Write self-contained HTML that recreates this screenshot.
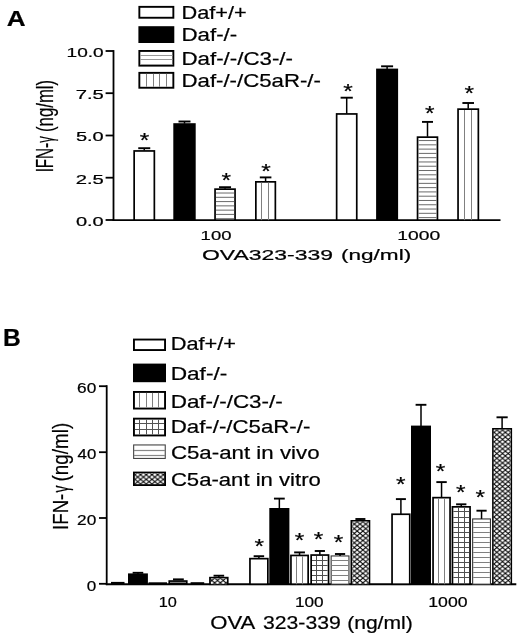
<!DOCTYPE html>
<html><head><meta charset="utf-8"><title>Figure</title>
<style>
html,body{margin:0;padding:0;background:#fff;}
svg{display:block;}
text{font-family:"Liberation Sans",sans-serif;fill:#000;stroke:#000;stroke-width:0.22px;}
</style></head>
<body>
<svg width="520" height="637" viewBox="0 0 520 637">
<defs>
<pattern id="xh" patternUnits="userSpaceOnUse" x="493.95" y="427.7" width="5.7" height="4.7">
<rect width="5.7" height="4.7" fill="#fff"/>
<path d="M-1 -0.825 L6.7 5.525 M6.7 -0.825 L-1 5.525" stroke="#000" stroke-width="1" fill="none"/>
</pattern>
</defs>
<rect width="520" height="637" fill="#fff"/>
<text transform="translate(6.85,25.75) scale(1.1818,1)" font-size="22.10" font-weight="bold">A</text>
<text transform="translate(2.90,345.50) scale(1.0605,1)" font-size="23.19" font-weight="bold">B</text>
<rect x="139.35" y="6.85" width="34.00" height="10.90" fill="#fff" stroke="#000" stroke-width="1.9"/>
<rect x="139.35" y="27.15" width="34.00" height="14.90" fill="#000" stroke="#000" stroke-width="1.9"/>
<rect x="139.35" y="50.95" width="34.00" height="14.70" fill="#fff" stroke="#000" stroke-width="1.9"/>
<line x1="140.30" y1="55.50" x2="172.40" y2="55.50" stroke="#999" stroke-width="1.2"/>
<line x1="140.30" y1="59.50" x2="172.40" y2="59.50" stroke="#999" stroke-width="1.2"/>
<line x1="140.30" y1="64.50" x2="172.40" y2="64.50" stroke="#999" stroke-width="1.2"/>
<rect x="139.35" y="72.85" width="34.00" height="14.90" fill="#fff" stroke="#000" stroke-width="1.9"/>
<line x1="146.50" y1="73.80" x2="146.50" y2="86.80" stroke="#808080" stroke-width="1"/>
<line x1="153.50" y1="73.80" x2="153.50" y2="86.80" stroke="#808080" stroke-width="1"/>
<line x1="159.50" y1="73.80" x2="159.50" y2="86.80" stroke="#808080" stroke-width="1"/>
<line x1="166.50" y1="73.80" x2="166.50" y2="86.80" stroke="#808080" stroke-width="1"/>
<text transform="translate(181.56,19.00) scale(1.1990,1)" font-size="18.12">Daf+/+</text>
<text transform="translate(181.52,40.80) scale(1.1925,1)" font-size="18.70">Daf-/-</text>
<text transform="translate(181.52,65.20) scale(1.1835,1)" font-size="18.84">Daf-/-/C3-/-</text>
<text transform="translate(181.52,86.60) scale(1.1880,1)" font-size="18.70">Daf-/-/C5aR-/-</text>
<line x1="113.50" y1="50.10" x2="113.50" y2="221.00" stroke="#000" stroke-width="1.8"/>
<line x1="112.60" y1="220.10" x2="500.50" y2="220.10" stroke="#000" stroke-width="1.8"/>
<line x1="105.60" y1="51.00" x2="113.50" y2="51.00" stroke="#000" stroke-width="1.8"/>
<text transform="translate(66.57,56.90) scale(1.4204,1)" font-size="13.43" stroke-width="0.1">10.0</text>
<line x1="105.60" y1="93.20" x2="113.50" y2="93.20" stroke="#000" stroke-width="1.8"/>
<text transform="translate(75.69,99.10) scale(1.5065,1)" font-size="13.43" stroke-width="0.1">7.5</text>
<line x1="105.60" y1="135.50" x2="113.50" y2="135.50" stroke="#000" stroke-width="1.8"/>
<text transform="translate(75.90,141.40) scale(1.4894,1)" font-size="13.43" stroke-width="0.1">5.0</text>
<line x1="105.60" y1="177.70" x2="113.50" y2="177.70" stroke="#000" stroke-width="1.8"/>
<text transform="translate(75.69,183.60) scale(1.5065,1)" font-size="13.43" stroke-width="0.1">2.5</text>
<line x1="105.60" y1="220.00" x2="113.50" y2="220.00" stroke="#000" stroke-width="1.8"/>
<text transform="translate(75.90,225.90) scale(1.4894,1)" font-size="13.43" stroke-width="0.1">0.0</text>
<text transform="translate(52.50,172.37) rotate(-90) scale(0.6354,1)" font-size="23.91">IFN-</text>
<text transform="translate(52.50,142.76) rotate(-90) scale(0.5377,1)" font-size="23.91">γ</text>
<text transform="translate(52.50,132.01) rotate(-90) scale(0.7021,1)" font-size="23.91">(ng/ml)</text>
<rect x="134.15" y="150.95" width="20.20" height="69.15" fill="#fff" stroke="#000" stroke-width="1.7"/>
<line x1="144.25" y1="148.20" x2="144.25" y2="150.60" stroke="#000" stroke-width="1.5"/>
<line x1="138.25" y1="148.20" x2="150.25" y2="148.20" stroke="#000" stroke-width="1.9"/>
<text transform="translate(139.68,147.11) scale(1.2582,1)" font-size="19.43" stroke-width="0.5">*</text>
<rect x="173.30" y="123.20" width="22.40" height="96.90" fill="#000"/>
<line x1="184.50" y1="121.50" x2="184.50" y2="123.70" stroke="#000" stroke-width="1.5"/>
<line x1="178.50" y1="121.50" x2="190.50" y2="121.50" stroke="#000" stroke-width="1.9"/>
<rect x="215.05" y="189.15" width="20.00" height="30.95" fill="#fff" stroke="#000" stroke-width="1.7"/>
<line x1="215.90" y1="218.70" x2="234.20" y2="218.70" stroke="#6a6a6a" stroke-width="1"/>
<line x1="215.90" y1="214.42" x2="234.20" y2="214.42" stroke="#6a6a6a" stroke-width="1"/>
<line x1="215.90" y1="210.14" x2="234.20" y2="210.14" stroke="#6a6a6a" stroke-width="1"/>
<line x1="215.90" y1="205.86" x2="234.20" y2="205.86" stroke="#6a6a6a" stroke-width="1"/>
<line x1="215.90" y1="201.58" x2="234.20" y2="201.58" stroke="#6a6a6a" stroke-width="1"/>
<line x1="215.90" y1="197.30" x2="234.20" y2="197.30" stroke="#6a6a6a" stroke-width="1"/>
<line x1="215.90" y1="193.02" x2="234.20" y2="193.02" stroke="#6a6a6a" stroke-width="1"/>
<line x1="225.05" y1="187.20" x2="225.05" y2="188.80" stroke="#000" stroke-width="1.5"/>
<line x1="219.05" y1="187.20" x2="231.05" y2="187.20" stroke="#000" stroke-width="1.9"/>
<text transform="translate(221.53,187.11) scale(1.2582,1)" font-size="19.43" stroke-width="0.5">*</text>
<rect x="255.85" y="181.85" width="19.50" height="38.25" fill="#fff" stroke="#000" stroke-width="1.7"/>
<line x1="261.50" y1="182.70" x2="261.50" y2="220.10" stroke="#808080" stroke-width="1"/>
<line x1="268.50" y1="182.70" x2="268.50" y2="220.10" stroke="#808080" stroke-width="1"/>
<line x1="265.60" y1="177.40" x2="265.60" y2="181.50" stroke="#000" stroke-width="1.5"/>
<line x1="259.80" y1="177.40" x2="271.40" y2="177.40" stroke="#000" stroke-width="1.9"/>
<text transform="translate(261.23,177.61) scale(1.2582,1)" font-size="19.43" stroke-width="0.5">*</text>
<rect x="336.65" y="113.95" width="20.10" height="106.15" fill="#fff" stroke="#000" stroke-width="1.7"/>
<line x1="346.70" y1="97.70" x2="346.70" y2="113.60" stroke="#000" stroke-width="1.5"/>
<line x1="340.60" y1="97.70" x2="352.80" y2="97.70" stroke="#000" stroke-width="1.9"/>
<text transform="translate(343.33,98.41) scale(1.2582,1)" font-size="19.43" stroke-width="0.5">*</text>
<rect x="376.10" y="68.60" width="22.00" height="151.50" fill="#000"/>
<line x1="387.10" y1="66.30" x2="387.10" y2="69.10" stroke="#000" stroke-width="1.5"/>
<line x1="381.10" y1="66.30" x2="393.10" y2="66.30" stroke="#000" stroke-width="1.9"/>
<rect x="417.55" y="137.15" width="19.90" height="82.95" fill="#fff" stroke="#000" stroke-width="1.7"/>
<line x1="418.40" y1="217.60" x2="436.60" y2="217.60" stroke="#6a6a6a" stroke-width="1"/>
<line x1="418.40" y1="213.32" x2="436.60" y2="213.32" stroke="#6a6a6a" stroke-width="1"/>
<line x1="418.40" y1="209.04" x2="436.60" y2="209.04" stroke="#6a6a6a" stroke-width="1"/>
<line x1="418.40" y1="204.76" x2="436.60" y2="204.76" stroke="#6a6a6a" stroke-width="1"/>
<line x1="418.40" y1="200.48" x2="436.60" y2="200.48" stroke="#6a6a6a" stroke-width="1"/>
<line x1="418.40" y1="196.20" x2="436.60" y2="196.20" stroke="#6a6a6a" stroke-width="1"/>
<line x1="418.40" y1="191.92" x2="436.60" y2="191.92" stroke="#6a6a6a" stroke-width="1"/>
<line x1="418.40" y1="187.64" x2="436.60" y2="187.64" stroke="#6a6a6a" stroke-width="1"/>
<line x1="418.40" y1="183.36" x2="436.60" y2="183.36" stroke="#6a6a6a" stroke-width="1"/>
<line x1="418.40" y1="179.08" x2="436.60" y2="179.08" stroke="#6a6a6a" stroke-width="1"/>
<line x1="418.40" y1="174.80" x2="436.60" y2="174.80" stroke="#6a6a6a" stroke-width="1"/>
<line x1="418.40" y1="170.52" x2="436.60" y2="170.52" stroke="#6a6a6a" stroke-width="1"/>
<line x1="418.40" y1="166.24" x2="436.60" y2="166.24" stroke="#6a6a6a" stroke-width="1"/>
<line x1="418.40" y1="161.96" x2="436.60" y2="161.96" stroke="#6a6a6a" stroke-width="1"/>
<line x1="418.40" y1="157.68" x2="436.60" y2="157.68" stroke="#6a6a6a" stroke-width="1"/>
<line x1="418.40" y1="153.40" x2="436.60" y2="153.40" stroke="#6a6a6a" stroke-width="1"/>
<line x1="418.40" y1="149.12" x2="436.60" y2="149.12" stroke="#6a6a6a" stroke-width="1"/>
<line x1="418.40" y1="144.84" x2="436.60" y2="144.84" stroke="#6a6a6a" stroke-width="1"/>
<line x1="418.40" y1="140.56" x2="436.60" y2="140.56" stroke="#6a6a6a" stroke-width="1"/>
<line x1="427.50" y1="121.90" x2="427.50" y2="136.80" stroke="#000" stroke-width="1.5"/>
<line x1="422.00" y1="121.90" x2="433.00" y2="121.90" stroke="#000" stroke-width="1.9"/>
<text transform="translate(425.03,119.71) scale(1.2582,1)" font-size="19.43" stroke-width="0.5">*</text>
<rect x="458.05" y="109.15" width="20.30" height="110.95" fill="#fff" stroke="#000" stroke-width="1.7"/>
<line x1="464.50" y1="110.00" x2="464.50" y2="220.10" stroke="#808080" stroke-width="1"/>
<line x1="471.50" y1="110.00" x2="471.50" y2="220.10" stroke="#808080" stroke-width="1"/>
<line x1="468.20" y1="103.00" x2="468.20" y2="108.80" stroke="#000" stroke-width="1.5"/>
<line x1="462.40" y1="103.00" x2="474.00" y2="103.00" stroke="#000" stroke-width="1.9"/>
<text transform="translate(464.43,99.81) scale(1.2582,1)" font-size="19.43" stroke-width="0.5">*</text>
<text transform="translate(200.61,239.50) scale(1.3623,1)" font-size="13.57" stroke-width="0.1">100</text>
<text transform="translate(397.30,239.50) scale(1.4197,1)" font-size="13.57" stroke-width="0.1">1000</text>
<text transform="translate(201.97,260.10) scale(1.5160,1)" font-size="15.14" stroke-width="0.1">OVA323-339</text>
<text transform="translate(340.94,260.10) scale(1.4930,1)" font-size="15.14" stroke-width="0.1">(ng/ml)</text>
<rect x="133.95" y="339.55" width="31.10" height="10.50" fill="#fff" stroke="#000" stroke-width="1.9"/>
<rect x="133.95" y="364.55" width="31.10" height="16.70" fill="#000" stroke="#000" stroke-width="1.9"/>
<rect x="133.95" y="391.95" width="31.10" height="16.60" fill="#fff" stroke="#000" stroke-width="1.9"/>
<line x1="139.50" y1="392.90" x2="139.50" y2="407.60" stroke="#808080" stroke-width="1"/>
<line x1="146.50" y1="392.90" x2="146.50" y2="407.60" stroke="#808080" stroke-width="1"/>
<line x1="152.50" y1="392.90" x2="152.50" y2="407.60" stroke="#808080" stroke-width="1"/>
<line x1="158.50" y1="392.90" x2="158.50" y2="407.60" stroke="#808080" stroke-width="1"/>
<rect x="133.95" y="418.65" width="31.10" height="16.80" fill="#fff" stroke="#000" stroke-width="1.9"/>
<line x1="139.50" y1="419.60" x2="139.50" y2="434.50" stroke="#555" stroke-width="1"/>
<line x1="146.50" y1="419.60" x2="146.50" y2="434.50" stroke="#555" stroke-width="1"/>
<line x1="152.50" y1="419.60" x2="152.50" y2="434.50" stroke="#555" stroke-width="1"/>
<line x1="158.50" y1="419.60" x2="158.50" y2="434.50" stroke="#555" stroke-width="1"/>
<line x1="134.90" y1="423.50" x2="164.10" y2="423.50" stroke="#555" stroke-width="1"/>
<line x1="134.90" y1="429.50" x2="164.10" y2="429.50" stroke="#555" stroke-width="1"/>
<rect x="133.65" y="444.95" width="31.60" height="13.50" fill="#fff" stroke="#444" stroke-width="1.1"/>
<line x1="134.00" y1="450.50" x2="165.00" y2="450.50" stroke="#888" stroke-width="1.2"/>
<line x1="134.00" y1="455.50" x2="165.00" y2="455.50" stroke="#888" stroke-width="1.2"/>
<rect x="133.95" y="472.55" width="31.10" height="12.50" fill="#fff" stroke="#000" stroke-width="1.9"/>
<rect x="134.9" y="473.5" width="29.2" height="10.6" fill="url(#xh)"/>
<text transform="translate(170.76,350.00) scale(1.2000,1)" font-size="18.12">Daf+/+</text>
<text transform="translate(170.69,379.50) scale(1.2493,1)" font-size="18.12">Daf-/-</text>
<text transform="translate(170.71,407.50) scale(1.2081,1)" font-size="18.55">Daf-/-/C3-/-</text>
<text transform="translate(170.72,433.00) scale(1.2093,1)" font-size="18.41">Daf-/-/C5aR-/-</text>
<text transform="translate(170.88,458.60) scale(1.2022,1)" font-size="18.55">C5a-ant in vivo</text>
<text transform="translate(170.89,486.00) scale(1.1925,1)" font-size="18.55">C5a-ant in vitro</text>
<line x1="106.70" y1="385.20" x2="106.70" y2="585.10" stroke="#000" stroke-width="1.8"/>
<line x1="105.80" y1="584.20" x2="516.30" y2="584.20" stroke="#000" stroke-width="1.9"/>
<line x1="99.00" y1="386.20" x2="106.70" y2="386.20" stroke="#000" stroke-width="1.8"/>
<text transform="translate(77.04,393.00) scale(1.1404,1)" font-size="15.14">60</text>
<line x1="99.00" y1="452.20" x2="106.70" y2="452.20" stroke="#000" stroke-width="1.8"/>
<text transform="translate(77.56,459.00) scale(1.1079,1)" font-size="15.14">40</text>
<line x1="99.00" y1="518.00" x2="106.70" y2="518.00" stroke="#000" stroke-width="1.8"/>
<text transform="translate(77.04,524.80) scale(1.1404,1)" font-size="15.14">20</text>
<line x1="99.00" y1="583.80" x2="106.70" y2="583.80" stroke="#000" stroke-width="1.8"/>
<text transform="translate(86.72,590.60) scale(1.1281,1)" font-size="15.14">0</text>
<text transform="translate(68.00,529.88) rotate(-90) scale(0.8508,1)" font-size="21.88">IFN-</text>
<text transform="translate(68.00,492.57) rotate(-90) scale(0.6341,1)" font-size="21.88">γ</text>
<text transform="translate(68.00,481.53) rotate(-90) scale(0.8635,1)" font-size="21.88">(ng/ml)</text>
<rect x="111.00" y="581.90" width="13.50" height="2.30" fill="#000"/>
<rect x="128.00" y="573.40" width="19.90" height="10.80" fill="#000"/>
<line x1="137.95" y1="572.80" x2="137.95" y2="573.90" stroke="#000" stroke-width="1.5"/>
<line x1="132.65" y1="572.80" x2="143.25" y2="572.80" stroke="#000" stroke-width="1.9"/>
<rect x="148.50" y="582.30" width="18.50" height="1.90" fill="#000"/>
<rect x="168.40" y="580.20" width="19.20" height="4.00" fill="#000"/>
<rect x="170.00" y="581.90" width="16.00" height="0.90" fill="#999"/>
<rect x="173.00" y="578.40" width="10.80" height="2.00" fill="#000"/>
<rect x="190.60" y="582.20" width="13.60" height="2.00" fill="#000"/>
<rect x="210.00" y="577.70" width="17.70" height="6.50" fill="#fff" stroke="#000" stroke-width="1.8"/>
<rect x="210.90" y="578.60" width="15.90" height="5.60" fill="url(#xh)"/>
<line x1="218.85" y1="575.70" x2="218.85" y2="577.30" stroke="#000" stroke-width="1.5"/>
<line x1="213.55" y1="575.70" x2="224.15" y2="575.70" stroke="#000" stroke-width="1.9"/>
<rect x="249.95" y="558.65" width="17.90" height="25.55" fill="#fff" stroke="#000" stroke-width="1.7"/>
<line x1="258.90" y1="556.20" x2="258.90" y2="558.30" stroke="#000" stroke-width="1.5"/>
<line x1="253.65" y1="556.20" x2="264.15" y2="556.20" stroke="#000" stroke-width="1.9"/>
<text transform="translate(254.53,552.80) scale(1.2222,1)" font-size="20.00" stroke-width="0.5">*</text>
<rect x="269.30" y="508.00" width="20.10" height="76.20" fill="#000"/>
<line x1="279.35" y1="498.60" x2="279.35" y2="508.50" stroke="#000" stroke-width="1.5"/>
<line x1="273.95" y1="498.60" x2="284.75" y2="498.60" stroke="#000" stroke-width="1.9"/>
<rect x="290.95" y="555.45" width="17.20" height="28.75" fill="#fff" stroke="#000" stroke-width="1.7"/>
<line x1="296.50" y1="556.30" x2="296.50" y2="584.20" stroke="#808080" stroke-width="1"/>
<line x1="302.50" y1="556.30" x2="302.50" y2="584.20" stroke="#808080" stroke-width="1"/>
<line x1="299.55" y1="552.40" x2="299.55" y2="555.10" stroke="#000" stroke-width="1.5"/>
<line x1="294.15" y1="552.40" x2="304.95" y2="552.40" stroke="#000" stroke-width="1.9"/>
<text transform="translate(294.83,546.80) scale(1.2222,1)" font-size="20.00" stroke-width="0.5">*</text>
<rect x="311.15" y="555.05" width="17.40" height="29.15" fill="#fff" stroke="#000" stroke-width="1.7"/>
<line x1="312.00" y1="580.50" x2="327.70" y2="580.50" stroke="#505050" stroke-width="1"/>
<line x1="312.00" y1="575.50" x2="327.70" y2="575.50" stroke="#505050" stroke-width="1"/>
<line x1="312.00" y1="570.50" x2="327.70" y2="570.50" stroke="#505050" stroke-width="1"/>
<line x1="312.00" y1="565.50" x2="327.70" y2="565.50" stroke="#505050" stroke-width="1"/>
<line x1="312.00" y1="560.50" x2="327.70" y2="560.50" stroke="#505050" stroke-width="1"/>
<line x1="316.50" y1="555.90" x2="316.50" y2="584.20" stroke="#505050" stroke-width="1"/>
<line x1="322.50" y1="555.90" x2="322.50" y2="584.20" stroke="#505050" stroke-width="1"/>
<line x1="319.85" y1="551.00" x2="319.85" y2="554.70" stroke="#000" stroke-width="1.5"/>
<line x1="314.75" y1="551.00" x2="324.95" y2="551.00" stroke="#000" stroke-width="1.9"/>
<text transform="translate(313.73,546.00) scale(1.2222,1)" font-size="20.00" stroke-width="0.5">*</text>
<rect x="331.15" y="555.95" width="17.80" height="28.25" fill="#fff" stroke="#333" stroke-width="1.1"/>
<line x1="331.70" y1="580.50" x2="348.40" y2="580.50" stroke="#808080" stroke-width="1"/>
<line x1="331.70" y1="575.50" x2="348.40" y2="575.50" stroke="#808080" stroke-width="1"/>
<line x1="331.70" y1="570.50" x2="348.40" y2="570.50" stroke="#808080" stroke-width="1"/>
<line x1="331.70" y1="565.50" x2="348.40" y2="565.50" stroke="#808080" stroke-width="1"/>
<line x1="331.70" y1="560.50" x2="348.40" y2="560.50" stroke="#808080" stroke-width="1"/>
<line x1="340.05" y1="554.00" x2="340.05" y2="555.90" stroke="#000" stroke-width="1.5"/>
<line x1="334.95" y1="554.00" x2="345.15" y2="554.00" stroke="#000" stroke-width="1.9"/>
<text transform="translate(333.73,548.60) scale(1.2222,1)" font-size="20.00" stroke-width="0.5">*</text>
<rect x="351.35" y="520.85" width="18.10" height="63.35" fill="#fff" stroke="#000" stroke-width="1.7"/>
<rect x="352.20" y="521.70" width="16.40" height="62.50" fill="url(#xh)"/>
<line x1="360.40" y1="519.00" x2="360.40" y2="520.50" stroke="#000" stroke-width="1.5"/>
<line x1="355.40" y1="519.00" x2="365.40" y2="519.00" stroke="#000" stroke-width="1.9"/>
<rect x="392.05" y="514.25" width="17.70" height="69.95" fill="#fff" stroke="#000" stroke-width="1.7"/>
<line x1="400.90" y1="499.10" x2="400.90" y2="513.90" stroke="#000" stroke-width="1.5"/>
<line x1="395.90" y1="499.10" x2="405.90" y2="499.10" stroke="#000" stroke-width="1.9"/>
<text transform="translate(396.03,491.40) scale(1.2222,1)" font-size="20.00" stroke-width="0.5">*</text>
<rect x="411.00" y="425.60" width="20.00" height="158.60" fill="#000"/>
<line x1="421.00" y1="404.80" x2="421.00" y2="426.10" stroke="#000" stroke-width="1.5"/>
<line x1="415.60" y1="404.80" x2="426.40" y2="404.80" stroke="#000" stroke-width="1.9"/>
<rect x="433.05" y="497.65" width="17.00" height="86.55" fill="#fff" stroke="#000" stroke-width="1.7"/>
<line x1="438.50" y1="498.50" x2="438.50" y2="584.20" stroke="#808080" stroke-width="1"/>
<line x1="444.50" y1="498.50" x2="444.50" y2="584.20" stroke="#808080" stroke-width="1"/>
<line x1="441.55" y1="482.10" x2="441.55" y2="497.30" stroke="#000" stroke-width="1.5"/>
<line x1="436.35" y1="482.10" x2="446.75" y2="482.10" stroke="#000" stroke-width="1.9"/>
<text transform="translate(435.83,478.20) scale(1.2222,1)" font-size="20.00" stroke-width="0.5">*</text>
<rect x="452.45" y="506.85" width="17.60" height="77.35" fill="#fff" stroke="#000" stroke-width="1.7"/>
<line x1="453.30" y1="577.50" x2="469.20" y2="577.50" stroke="#505050" stroke-width="1"/>
<line x1="453.30" y1="572.50" x2="469.20" y2="572.50" stroke="#505050" stroke-width="1"/>
<line x1="453.30" y1="567.50" x2="469.20" y2="567.50" stroke="#505050" stroke-width="1"/>
<line x1="453.30" y1="562.50" x2="469.20" y2="562.50" stroke="#505050" stroke-width="1"/>
<line x1="453.30" y1="557.50" x2="469.20" y2="557.50" stroke="#505050" stroke-width="1"/>
<line x1="453.30" y1="552.50" x2="469.20" y2="552.50" stroke="#505050" stroke-width="1"/>
<line x1="453.30" y1="547.50" x2="469.20" y2="547.50" stroke="#505050" stroke-width="1"/>
<line x1="453.30" y1="542.50" x2="469.20" y2="542.50" stroke="#505050" stroke-width="1"/>
<line x1="453.30" y1="537.50" x2="469.20" y2="537.50" stroke="#505050" stroke-width="1"/>
<line x1="453.30" y1="532.50" x2="469.20" y2="532.50" stroke="#505050" stroke-width="1"/>
<line x1="453.30" y1="527.50" x2="469.20" y2="527.50" stroke="#505050" stroke-width="1"/>
<line x1="453.30" y1="522.50" x2="469.20" y2="522.50" stroke="#505050" stroke-width="1"/>
<line x1="453.30" y1="517.50" x2="469.20" y2="517.50" stroke="#505050" stroke-width="1"/>
<line x1="453.30" y1="511.50" x2="469.20" y2="511.50" stroke="#505050" stroke-width="1"/>
<line x1="458.50" y1="507.70" x2="458.50" y2="584.20" stroke="#505050" stroke-width="1"/>
<line x1="464.50" y1="507.70" x2="464.50" y2="584.20" stroke="#505050" stroke-width="1"/>
<line x1="461.25" y1="504.30" x2="461.25" y2="506.50" stroke="#000" stroke-width="1.5"/>
<line x1="456.10" y1="504.30" x2="466.40" y2="504.30" stroke="#000" stroke-width="1.9"/>
<text transform="translate(456.03,499.40) scale(1.2222,1)" font-size="20.00" stroke-width="0.5">*</text>
<rect x="472.65" y="518.95" width="17.80" height="65.25" fill="#fff" stroke="#333" stroke-width="1.1"/>
<line x1="473.20" y1="577.50" x2="489.90" y2="577.50" stroke="#808080" stroke-width="1"/>
<line x1="473.20" y1="572.50" x2="489.90" y2="572.50" stroke="#808080" stroke-width="1"/>
<line x1="473.20" y1="567.50" x2="489.90" y2="567.50" stroke="#808080" stroke-width="1"/>
<line x1="473.20" y1="562.50" x2="489.90" y2="562.50" stroke="#808080" stroke-width="1"/>
<line x1="473.20" y1="557.50" x2="489.90" y2="557.50" stroke="#808080" stroke-width="1"/>
<line x1="473.20" y1="552.50" x2="489.90" y2="552.50" stroke="#808080" stroke-width="1"/>
<line x1="473.20" y1="547.50" x2="489.90" y2="547.50" stroke="#808080" stroke-width="1"/>
<line x1="473.20" y1="542.50" x2="489.90" y2="542.50" stroke="#808080" stroke-width="1"/>
<line x1="473.20" y1="537.50" x2="489.90" y2="537.50" stroke="#808080" stroke-width="1"/>
<line x1="473.20" y1="532.50" x2="489.90" y2="532.50" stroke="#808080" stroke-width="1"/>
<line x1="473.20" y1="527.50" x2="489.90" y2="527.50" stroke="#808080" stroke-width="1"/>
<line x1="473.20" y1="522.50" x2="489.90" y2="522.50" stroke="#808080" stroke-width="1"/>
<line x1="481.55" y1="510.70" x2="481.55" y2="518.90" stroke="#000" stroke-width="1.5"/>
<line x1="476.45" y1="510.70" x2="486.65" y2="510.70" stroke="#000" stroke-width="1.9"/>
<text transform="translate(475.53,504.10) scale(1.2222,1)" font-size="20.00" stroke-width="0.5">*</text>
<rect x="492.95" y="428.85" width="18.30" height="155.35" fill="#fff" stroke="#000" stroke-width="1.7"/>
<rect x="493.80" y="429.70" width="16.60" height="154.50" fill="url(#xh)"/>
<line x1="502.10" y1="417.30" x2="502.10" y2="428.50" stroke="#000" stroke-width="1.5"/>
<line x1="496.50" y1="417.30" x2="507.70" y2="417.30" stroke="#000" stroke-width="1.9"/>
<text transform="translate(158.78,606.80) scale(1.0867,1)" font-size="15.00">10</text>
<text transform="translate(294.96,607.00) scale(1.1468,1)" font-size="15.00">100</text>
<text transform="translate(428.27,607.00) scale(1.1789,1)" font-size="15.00">1000</text>
<text transform="translate(210.31,628.70) scale(1.1815,1)" font-size="18.71">OVA</text>
<text transform="translate(262.95,628.70) scale(1.1343,1)" font-size="18.71">323-339</text>
<text transform="translate(347.13,628.70) scale(1.1277,1)" font-size="18.71">(ng/ml)</text>
</svg>
</body></html>
